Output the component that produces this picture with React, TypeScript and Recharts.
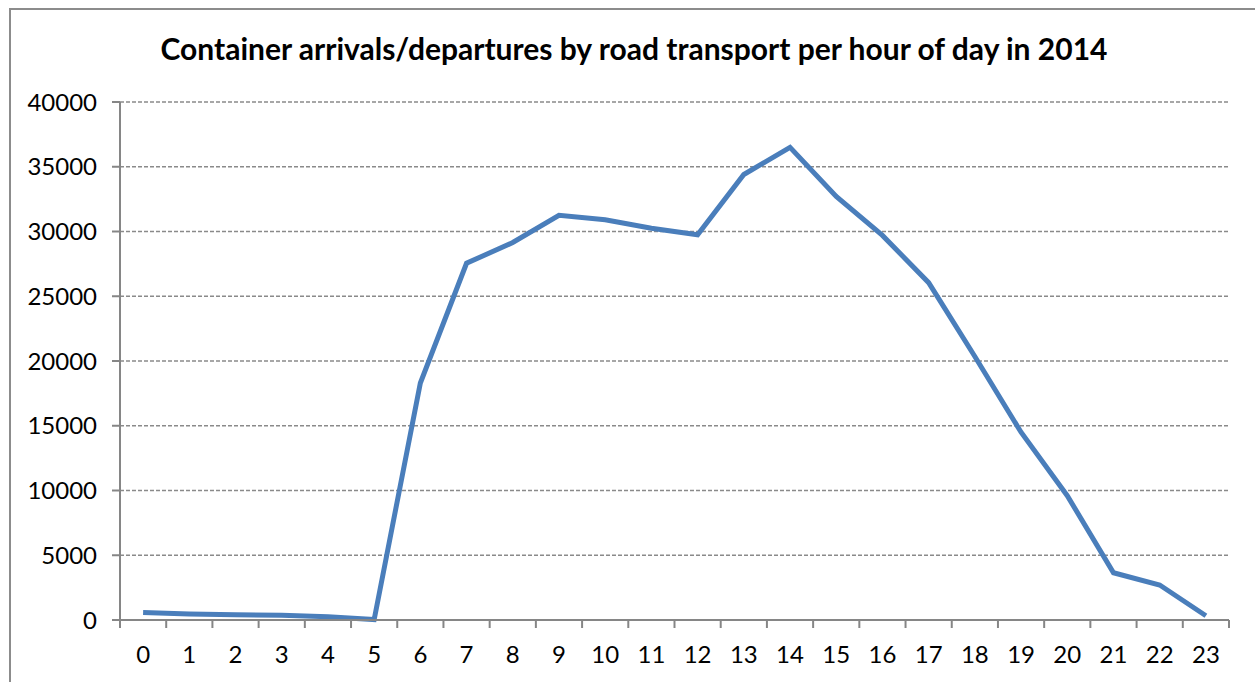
import { LineChart, Line, XAxis, YAxis, CartesianGrid } from 'recharts';

const hours = ['0', '1', '2', '3', '4', '5', '6', '7', '8', '9', '10', '11', '12', '13', '14', '15', '16', '17', '18', '19', '20', '21', '22', '23'];
const containers = [580, 470, 400, 370, 250, 30, 18300, 27550, 29150, 31250, 30900, 30250, 29750, 34400, 36500, 32700, 29700, 26050, 20350, 14500, 9600, 3650, 2700, 330];
const yTicks = [0, 5000, 10000, 15000, 20000, 25000, 30000, 35000, 40000];

const data = hours.map((h, i) => ({ hour: h, value: containers[i] }));

const FONT = 'Lato, "Open Sans", sans-serif';
const AXIS = '#868686';

// Excel-style category axis: tick marks sit between categories, labels in the middle
function HourTick(props: any) {
  const { x, y, payload, index } = props;
  const half = payload?.offset ?? 23;
  const axisY = y - 8 - 2;
  return (
    <g>
      <line x1={x - half} y1={axisY} x2={x - half} y2={axisY + 8} stroke={AXIS} strokeWidth={2} />
      {index === hours.length - 1 && (
        <line x1={x + half} y1={axisY} x2={x + half} y2={axisY + 8} stroke={AXIS} strokeWidth={2} />
      )}
      <text x={x} y={axisY + 43} textAnchor="middle" fill="#000" fontSize={24} fontFamily={FONT}>
        {payload.value}
      </text>
    </g>
  );
}

export default function App() {
  return (
    <div style={{ position: 'absolute', left: 0, top: 0, width: 1255, height: 682, overflow: 'hidden', background: '#fff' }}>
      <div style={{ position: 'absolute', left: 9, top: 8, width: 1400, height: 900, border: '2px solid #8c8c8c' }} />
      <div
        style={{
          position: 'absolute',
          left: 0,
          top: 33,
          width: 1268,
          textAlign: 'center',
          fontFamily: FONT,
          fontWeight: 'bold',
          fontSize: 30,
          lineHeight: '30px',
          color: '#000',
        }}
      >
        Container arrivals/departures by road transport per hour of day in 2014
      </div>
      <div style={{ position: 'absolute', left: 0, top: 0 }}>
        <LineChart width={1255} height={682} data={data} margin={{ top: 102, right: 26, left: 0, bottom: 0 }}>
          <CartesianGrid vertical={false} stroke="#8a8a8a" strokeDasharray="4 2" strokeWidth={1.5} />
          <XAxis
            dataKey="hour"
            scale="band"
            height={62}
            stroke={AXIS}
            strokeWidth={2}
            tickLine={false}
            tickSize={8}
            interval={0}
            tick={<HourTick />}
          />
          <YAxis
            width={120}
            domain={[0, 40000]}
            ticks={yTicks}
            interval={0}
            stroke={AXIS}
            strokeWidth={2}
            tickSize={8}
            tickMargin={15}
            tick={{ fill: '#000', fontSize: 24, fontFamily: FONT }}
          />
          <Line
            type="linear"
            dataKey="value"
            stroke="#4a7ebb"
            strokeWidth={5}
            dot={false}
            isAnimationActive={false}
          />
        </LineChart>
      </div>
    </div>
  );
}
